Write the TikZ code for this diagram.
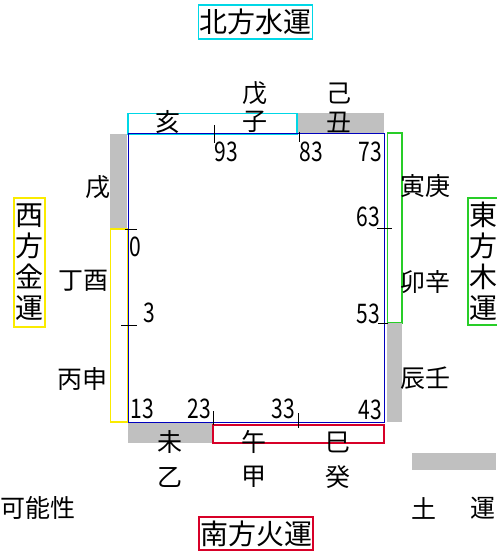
\documentclass[tikz,border=0pt]{standalone}
\usepackage{fontspec}
\setmainfont{Noto Sans CJK JP}
\usetikzlibrary{positioning}
\definecolor{mizu}{RGB}{0,215,230}
\definecolor{kin}{RGB}{250,235,0}
\definecolor{moku}{RGB}{40,205,40}
\definecolor{hi}{RGB}{215,0,40}
\definecolor{tsuchi}{RGB}{192,192,192}
\definecolor{waku}{RGB}{0,0,190}
\newcommand{\suji}[1]{\scalebox{0.78}[1]{#1}}

\begin{document}
\begin{tikzpicture}[x=1pt,y=-1pt,
	kan/.style={font=\fontsize{25}{25}\selectfont, inner sep=0pt},
	num/.style={font=\fontsize{27}{27}\selectfont, inner sep=0pt},
	hoko/.style={draw, line width=1.2pt, inner sep=0pt, font=\fontsize{28}{31}\selectfont, align=center}]
	\useasboundingbox (0,0) rectangle (496,553);
	
	% bars round the square
	\fill[tsuchi] (297,113) rectangle (384,134);
	\draw[mizu, line width=1.2pt] (128,113.5) rectangle (297,134);
	\fill[tsuchi] (110,134) rectangle (127,229);
	\draw[kin, line width=1.2pt] (110.5,229) rectangle (128,422);
	\draw[moku, line width=1.2pt] (387.5,133) rectangle (402,323);
	\fill[tsuchi] (387,323) rectangle (402,422);
	\fill[tsuchi] (128,422) rectangle (213,443);
	\draw[hi, line width=1.2pt] (213,425) rectangle (384,443);
	\fill[tsuchi] (412,453) rectangle (496,470);
	
	% square
	\draw[waku, line width=1pt] (128,134) rectangle (384,422);
	
	% ticks
	\draw[line width=0.8pt] (214,125)--(214,143);
	\draw[line width=0.8pt] (299,132)--(299,142);
	\draw[line width=0.8pt] (125,229)--(137,229);
	\draw[line width=0.8pt] (121,325)--(137,325);
	\draw[line width=0.8pt] (377,228)--(392,228);
	\draw[line width=0.8pt] (378,323)--(388,323);
	\draw[line width=0.8pt] (213,411)--(213,425);
	\draw[line width=0.8pt] (298,413)--(298,428);
	
	% numbers
	\node[num] (n93) at (226,152) {\suji{93}};
	\node[num] (n83) at (311,152) {\suji{83}};
	\node[num] (n73) at (370,152) {\suji{73}};
	\node[num] (n63) at (368,217) {\suji{63}};
	\node[num] (n53) at (368,314) {\suji{53}};
	\node[num] (n43) at (370,410) {\suji{43}};
	\node[num] (n33) at (283,409) {\suji{33}};
	\node[num] (n23) at (199,409) {\suji{23}};
	\node[num] (n13) at (142,409) {\suji{13}};
	\node[num] (n0) at (135,247) {\suji{0}};
	\node[num] (n3) at (149,313) {\suji{3}};
	
	% kanji
	\node[kan] (hai) at (168,122) {亥};
	\node[kan] (bo) at (255,93) {戊};
	\node[kan] (ne) at (255,122) {子};
	\node[kan] (ki) at (339,93) {己};
	\node[kan] (ushi) at (339,122) {丑};
	\node[kan] (inu) at (98,187) {戌};
	\node[kan] (teitori) at (83,281) {丁酉};
	\node[kan] (heisaru) at (82,379) {丙申};
	\node[kan] (torakou) at (425,186) {寅庚};
	\node[kan] (ushin) at (425,282) {卯辛};
	\node[kan] (tatsujin) at (425,378) {辰壬};
	\node[kan] (hitsuji) at (170,442) {未};
	\node[kan] (otsu) at (170,477) {乙};
	\node[kan] (uma) at (254,442) {午};
	\node[kan] (kou) at (254,477) {甲};
	\node[kan] (mi) at (338,442) {巳};
	\node[kan] (ki2) at (338,477) {癸};
	
	% directions
	\node[hoko, mizu, text=black, minimum width=114pt, minimum height=34pt] (kita) at (255.5,22) {北方水運};
	\node[hoko, hi, text=black, minimum width=114pt, minimum height=33pt] (minami) at (256,533.5) {南方火運};
	\node[hoko, kin, text=black, minimum width=31pt, minimum height=129pt] (nishi) at (29.5,262.5) {西\\方\\金\\運};
	\node[hoko, moku, text=black, minimum width=31pt, minimum height=127pt] (higashi) at (483.5,261.5) {東\\方\\木\\運};
	
	% legend
	\node[kan, anchor=west] (kanou) at (0.5,508) {可能性};
	\node[kan] (do) at (424,508) {土};
	\node[kan, anchor=east] (un) at (495.5,508) {運};
\end{tikzpicture}
\end{document}
